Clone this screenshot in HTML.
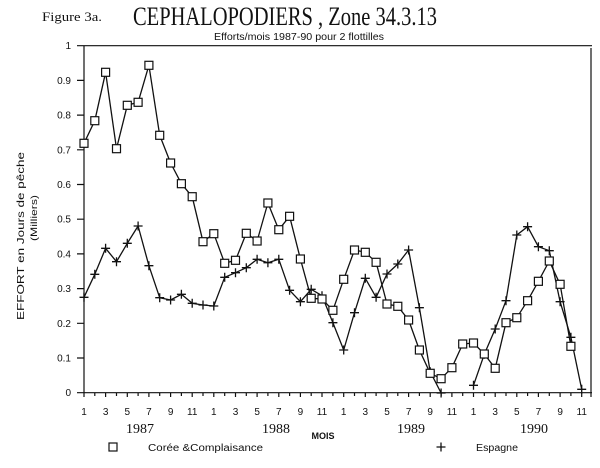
<!DOCTYPE html>
<html><head><meta charset="utf-8"><style>
html,body{margin:0;padding:0;background:#fff;}
svg{display:block;}
</style></head><body>
<svg width="600" height="468" viewBox="0 0 600 468" xmlns="http://www.w3.org/2000/svg">
<defs>
<g id="sq"><rect x="-4" y="-4" width="8" height="8" fill="#fff" stroke="#111" stroke-width="1.2"/></g>
<g id="cr"><path d="M-4.5,0H4.5M0,-4.5V4.5" stroke="#111" stroke-width="1.3" fill="none"/></g>
</defs>
<rect width="600" height="468" fill="#fff"/>
<!-- titles -->
<text x="42" y="21" font-family="Liberation Serif, serif" font-size="13" textLength="60" lengthAdjust="spacingAndGlyphs" fill="#111">Figure 3a.</text>
<text x="133" y="25" font-family="Liberation Serif, serif" font-size="26" textLength="304" lengthAdjust="spacingAndGlyphs" fill="#111">CEPHALOPODIERS , Zone 34.3.13</text>
<text x="214" y="40" font-family="Liberation Sans, sans-serif" font-size="10" textLength="170" lengthAdjust="spacingAndGlyphs" fill="#111">Efforts/mois 1987-90 pour 2 flottilles</text>

<!-- frame -->
<g stroke="#111" stroke-width="1.2" fill="none">
<path d="M77,45.7H592"/>
<path d="M84,45.7V392.7"/>
<path d="M77,392.7H592"/>
<path d="M591,48V397"/>
<path d="M77,80.4H84M77,115.1H84M77,149.8H84M77,184.5H84M77,219.2H84M77,253.9H84M77,288.6H84M77,323.3H84M77,358H84"/>
<path d="M84,392.7V397M94.8,392.7V396M105.6,392.7V397M116.5,392.7V396M127.3,392.7V397M138.1,392.7V396M148.9,392.7V397M159.7,392.7V396M170.6,392.7V397M181.4,392.7V396M192.2,392.7V397M203,392.7V396M213.8,392.7V397M224.7,392.7V396M235.5,392.7V397M246.3,392.7V396M257.1,392.7V397M267.9,392.7V396M278.8,392.7V397M289.6,392.7V396M300.4,392.7V397M311.2,392.7V396M322,392.7V397M332.9,392.7V396M343.7,392.7V397M354.5,392.7V396M365.3,392.7V397M376.1,392.7V396M387,392.7V397M397.8,392.7V396M408.6,392.7V397M419.4,392.7V396M430.2,392.7V397M441.1,392.7V396M451.9,392.7V397M462.7,392.7V396M473.5,392.7V397M484.3,392.7V396M495.2,392.7V397M506,392.7V396M516.8,392.7V397M527.6,392.7V396M538.4,392.7V397M549.3,392.7V396M560.1,392.7V397M570.9,392.7V396M581.7,392.7V397"/>
</g>

<!-- y labels -->
<g font-family="Liberation Sans, sans-serif" font-size="10" fill="#111" text-anchor="end">
<text x="71" y="49.2">1</text>
<text x="71" y="83.9">0.9</text>
<text x="71" y="118.6">0.8</text>
<text x="71" y="153.3">0.7</text>
<text x="71" y="188">0.6</text>
<text x="71" y="222.7">0.5</text>
<text x="71" y="257.4">0.4</text>
<text x="71" y="292.1">0.3</text>
<text x="71" y="326.8">0.2</text>
<text x="71" y="361.5">0.1</text>
<text x="71" y="396.2">0</text>
</g>
<!-- y axis title -->
<text transform="translate(24,236) rotate(-90)" font-family="Liberation Sans, sans-serif" font-size="10" fill="#111" text-anchor="middle" textLength="168" lengthAdjust="spacingAndGlyphs">EFFORT en Jours de pêche</text>
<text transform="translate(37,218) rotate(-90)" font-family="Liberation Sans, sans-serif" font-size="9" fill="#111" text-anchor="middle" textLength="46" lengthAdjust="spacingAndGlyphs">(Milliers)</text>

<!-- x labels -->
<g font-family="Liberation Sans, sans-serif" font-size="10" fill="#111" text-anchor="middle">
<text x="84" y="415">1</text><text x="105.6" y="415">3</text><text x="127.3" y="415">5</text><text x="148.9" y="415">7</text><text x="170.6" y="415">9</text><text x="192.2" y="415">11</text>
<text x="213.8" y="415">1</text><text x="235.5" y="415">3</text><text x="257.1" y="415">5</text><text x="278.8" y="415">7</text><text x="300.4" y="415">9</text><text x="322" y="415">11</text>
<text x="343.7" y="415">1</text><text x="365.3" y="415">3</text><text x="387" y="415">5</text><text x="408.6" y="415">7</text><text x="430.2" y="415">9</text><text x="451.9" y="415">11</text>
<text x="473.5" y="415">1</text><text x="495.2" y="415">3</text><text x="516.8" y="415">5</text><text x="538.4" y="415">7</text><text x="560.1" y="415">9</text><text x="581.7" y="415">11</text>
</g>
<g font-family="Liberation Serif, serif" font-size="14" fill="#111" text-anchor="middle">
<text x="140" y="433">1987</text>
<text x="276" y="433">1988</text>
<text x="411" y="433">1989</text>
<text x="534" y="433">1990</text>
</g>
<text x="323" y="439" font-family="Liberation Sans, sans-serif" font-size="9" font-weight="bold" fill="#111" text-anchor="middle">MOIS</text>

<!-- legend -->
<use href="#sq" x="113" y="447"/>
<text x="148" y="451" font-family="Liberation Sans, sans-serif" font-size="10" fill="#111" textLength="115" lengthAdjust="spacingAndGlyphs">Corée &amp;Complaisance</text>
<use href="#cr" x="441" y="447"/>
<text x="476" y="451" font-family="Liberation Sans, sans-serif" font-size="10" fill="#111" textLength="42" lengthAdjust="spacingAndGlyphs">Espagne</text>

<!-- series lines -->
<g fill="none" stroke="#111" stroke-width="1.3" stroke-linejoin="round">
<polyline points="84,143.3 94.8,120.7 105.6,72.3 116.5,148.7 127.3,105.3 138.1,102.3 148.9,65.3 159.7,135.3 170.6,163 181.4,183.7 192.2,196.7 203,241.7 213.8,233.7 224.7,263.3 235.5,260.3 246.3,233.3 257.1,241 267.9,203 278.8,229.7 289.6,216.3 300.4,259 311.2,298.3 322,299 332.9,310.3 343.7,279.3 354.5,250 365.3,252.3 376.1,262.3 387,304 397.8,306.3 408.6,320 419.4,350 430.2,373.3 441.1,378.7 451.9,367.7 462.7,344 473.5,343 484.3,354 495.2,368.3 506,322.7 516.8,317.7 527.6,300.7 538.4,281.3 549.3,261 560.1,284.3 570.9,346.3"/>
<polyline points="84,297.3 94.8,274.3 105.6,248.3 116.5,261.7 127.3,243.3 138.1,226 148.9,265.7 159.7,297.7 170.6,300 181.4,294.3 192.2,303.3 203,305 213.8,306 224.7,277.3 235.5,272.7 246.3,267.7 257.1,259.3 267.9,262.7 278.8,259.3 289.6,290.3 300.4,301.7 311.2,289.3 322,295.7 332.9,322.7 343.7,350 354.5,312.7 365.3,278.3 376.1,297.3 387,274 397.8,264 408.6,250 419.4,307.7 430.2,371.7 441.1,393"/>
<polyline points="473.5,385.3 484.3,354.3 495.2,329 506,300.7 516.8,235 527.6,226.7 538.4,246.7 549.3,250.7 560.1,301.7 570.9,337.3 581.7,389.3"/>
</g>

<!-- cross markers -->
<g>
<use href="#cr" x="84" y="297.3"/><use href="#cr" x="94.8" y="274.3"/><use href="#cr" x="105.6" y="248.3"/><use href="#cr" x="116.5" y="261.7"/><use href="#cr" x="127.3" y="243.3"/><use href="#cr" x="138.1" y="226"/><use href="#cr" x="148.9" y="265.7"/><use href="#cr" x="159.7" y="297.7"/><use href="#cr" x="170.6" y="300"/><use href="#cr" x="181.4" y="294.3"/><use href="#cr" x="192.2" y="303.3"/><use href="#cr" x="203" y="305"/><use href="#cr" x="213.8" y="306"/><use href="#cr" x="224.7" y="277.3"/><use href="#cr" x="235.5" y="272.7"/><use href="#cr" x="246.3" y="267.7"/><use href="#cr" x="257.1" y="259.3"/><use href="#cr" x="267.9" y="262.7"/><use href="#cr" x="278.8" y="259.3"/><use href="#cr" x="289.6" y="290.3"/><use href="#cr" x="300.4" y="301.7"/><use href="#cr" x="311.2" y="289.3"/><use href="#cr" x="322" y="295.7"/><use href="#cr" x="332.9" y="322.7"/><use href="#cr" x="343.7" y="350"/><use href="#cr" x="354.5" y="312.7"/><use href="#cr" x="365.3" y="278.3"/><use href="#cr" x="376.1" y="297.3"/><use href="#cr" x="387" y="274"/><use href="#cr" x="397.8" y="264"/><use href="#cr" x="408.6" y="250"/><use href="#cr" x="419.4" y="307.7"/><use href="#cr" x="430.2" y="371.7"/><use href="#cr" x="441.1" y="393"/>
<use href="#cr" x="473.5" y="385.3"/><use href="#cr" x="484.3" y="354.3"/><use href="#cr" x="495.2" y="329"/><use href="#cr" x="506" y="300.7"/><use href="#cr" x="516.8" y="235"/><use href="#cr" x="527.6" y="226.7"/><use href="#cr" x="538.4" y="246.7"/><use href="#cr" x="549.3" y="250.7"/><use href="#cr" x="560.1" y="301.7"/><use href="#cr" x="570.9" y="337.3"/><use href="#cr" x="581.7" y="389.3"/>
</g>
<!-- square markers -->
<g>
<use href="#sq" x="84" y="143.3"/><use href="#sq" x="94.8" y="120.7"/><use href="#sq" x="105.6" y="72.3"/><use href="#sq" x="116.5" y="148.7"/><use href="#sq" x="127.3" y="105.3"/><use href="#sq" x="138.1" y="102.3"/><use href="#sq" x="148.9" y="65.3"/><use href="#sq" x="159.7" y="135.3"/><use href="#sq" x="170.6" y="163"/><use href="#sq" x="181.4" y="183.7"/><use href="#sq" x="192.2" y="196.7"/><use href="#sq" x="203" y="241.7"/><use href="#sq" x="213.8" y="233.7"/><use href="#sq" x="224.7" y="263.3"/><use href="#sq" x="235.5" y="260.3"/><use href="#sq" x="246.3" y="233.3"/><use href="#sq" x="257.1" y="241"/><use href="#sq" x="267.9" y="203"/><use href="#sq" x="278.8" y="229.7"/><use href="#sq" x="289.6" y="216.3"/><use href="#sq" x="300.4" y="259"/><use href="#sq" x="311.2" y="298.3"/><use href="#sq" x="322" y="299"/><use href="#sq" x="332.9" y="310.3"/><use href="#sq" x="343.7" y="279.3"/><use href="#sq" x="354.5" y="250"/><use href="#sq" x="365.3" y="252.3"/><use href="#sq" x="376.1" y="262.3"/><use href="#sq" x="387" y="304"/><use href="#sq" x="397.8" y="306.3"/><use href="#sq" x="408.6" y="320"/><use href="#sq" x="419.4" y="350"/><use href="#sq" x="430.2" y="373.3"/><use href="#sq" x="441.1" y="378.7"/><use href="#sq" x="451.9" y="367.7"/><use href="#sq" x="462.7" y="344"/><use href="#sq" x="473.5" y="343"/><use href="#sq" x="484.3" y="354"/><use href="#sq" x="495.2" y="368.3"/><use href="#sq" x="506" y="322.7"/><use href="#sq" x="516.8" y="317.7"/><use href="#sq" x="527.6" y="300.7"/><use href="#sq" x="538.4" y="281.3"/><use href="#sq" x="549.3" y="261"/><use href="#sq" x="560.1" y="284.3"/><use href="#sq" x="570.9" y="346.3"/>
</g>
</svg>
</body></html>
